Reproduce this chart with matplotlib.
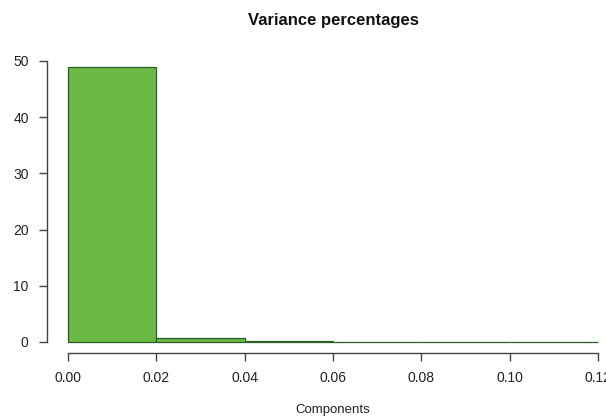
import numpy as np
import matplotlib
matplotlib.use('Agg')
import matplotlib.pyplot as plt

# histogram bins and counts
bin_edges = [0.00, 0.02, 0.04, 0.06, 0.08, 0.10, 0.12]
counts = [49, 0.7, 0.2, 0, 0, 0]
x_ticks = [0.00, 0.02, 0.04, 0.06, 0.08, 0.10, 0.12]
x_labels = ['0.00', '0.02', '0.04', '0.06', '0.08', '0.10', '0.12']
y_ticks = [0, 10, 20, 30, 40, 50]

plt.rcParams['font.family'] = ['Liberation Sans', 'DejaVu Sans']

W, H = 606, 419
fig = plt.figure(figsize=(W / 100, H / 100), dpi=100)
# plot region in pixels: left 46.8, right 619.2, top 55.6, bottom 353
left, right, top, bottom = 46.8, 619.2, 55.6, 353.0
ax = fig.add_axes([left / W, 1 - bottom / H, (right - left) / W, (bottom - top) / H])

widths = np.diff(bin_edges)
ax.bar(bin_edges[:-1], counts, width=widths, align='edge',
       color='#6aba45', edgecolor='#2b5e25', linewidth=0.9)

ax.set_xlim(-0.0048, 0.1248)
ax.set_ylim(-1.96, 50.96)

for s in ['top', 'right']:
    ax.spines[s].set_visible(False)
ax.spines['left'].set_bounds(0, 50)
ax.spines['bottom'].set_bounds(0, 0.12)
for s in ['left', 'bottom']:
    ax.spines[s].set_color('#444444')
    ax.spines[s].set_linewidth(1.0)

ax.set_xticks(x_ticks)
ax.set_xticklabels(x_labels)
ax.set_yticks(y_ticks)
ax.tick_params(direction='out', length=6, width=1.0, color='#444444',
               labelsize=10, labelcolor='#222222', pad=7)

fig.text(0.5 * (68 + 598) / W, 1 - 410 / H, 'Components', ha='center',
         va='center', fontsize=9.5, color='#222222')
fig.text(0.5 * (68 + 598) / W, 1 - 21 / H, 'Variance percentages',
         ha='center', va='center', fontsize=12, fontweight='bold',
         color='#111111')

fig.savefig('out.png', dpi=100)
